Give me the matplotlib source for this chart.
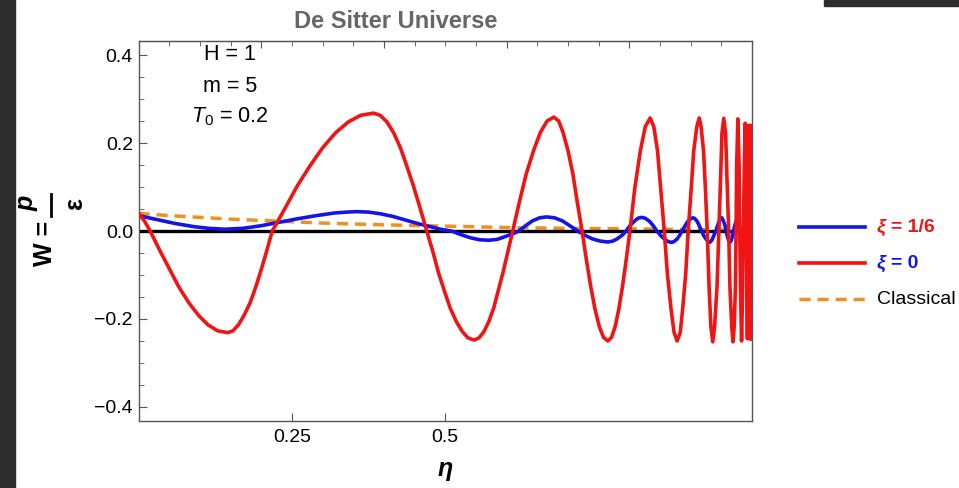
import numpy as np
import matplotlib.pyplot as plt
from matplotlib.lines import Line2D
from matplotlib.patches import Rectangle
from matplotlib.ticker import MultipleLocator

plt.rcParams['font.family'] = ['Liberation Sans', 'DejaVu Sans']
plt.rcParams['mathtext.fontset'] = 'custom'
plt.rcParams['mathtext.rm'] = 'Liberation Sans'
plt.rcParams['mathtext.it'] = 'Liberation Sans:italic'
plt.rcParams['mathtext.bf'] = 'Liberation Sans:bold'

# xi = 0 (red)
eta_red = [0.000, 0.010, 0.019, 0.035, 0.051, 0.066, 0.082, 0.098, 0.113, 0.129, 0.145,
           0.154, 0.163, 0.172, 0.182, 0.191, 0.200, 0.209, 0.218,
           0.239, 0.259, 0.280, 0.300, 0.321, 0.342, 0.362, 0.383,
           0.394, 0.405, 0.416, 0.427, 0.437, 0.448, 0.459, 0.470,
           0.480, 0.489, 0.499, 0.508, 0.518, 0.528, 0.537, 0.547,
           0.555, 0.563, 0.571, 0.579, 0.586, 0.594, 0.602, 0.610,
           0.621, 0.632, 0.644, 0.655, 0.666, 0.677, 0.685, 0.692, 0.700, 0.708, 0.715, 0.723,
           0.730, 0.737, 0.744, 0.751, 0.758, 0.765, 0.771, 0.777, 0.783, 0.789, 0.795, 0.801,
           0.809, 0.818, 0.826, 0.834, 0.840, 0.846, 0.851, 0.857,
           0.862, 0.868, 0.873, 0.878, 0.883, 0.887, 0.892, 0.896,
           0.901, 0.905, 0.910, 0.914, 0.917, 0.921, 0.924, 0.927,
           0.930, 0.933, 0.936, 0.939, 0.943, 0.946,
           0.949, 0.951, 0.954, 0.957, 0.959, 0.962,
           0.964, 0.967, 0.969, 0.971, 0.973, 0.974,
           0.975, 0.977, 0.979, 0.980, 0.9815, 0.983, 0.9845, 0.986,
           0.9875, 0.989, 0.990, 0.991, 0.9925, 0.994, 0.9955, 0.997, 0.998, 0.999, 1.000]
w_red = [0.041, 0.022, 0.000, -0.045, -0.088, -0.128, -0.163, -0.192, -0.213, -0.227, -0.231,
         -0.227, -0.213, -0.192, -0.163, -0.128, -0.088, -0.045, 0.000,
         0.052, 0.103, 0.149, 0.189, 0.223, 0.248, 0.263, 0.268,
         0.263, 0.248, 0.223, 0.189, 0.149, 0.103, 0.052, 0.000,
         -0.048, -0.095, -0.138, -0.175, -0.206, -0.229, -0.243, -0.248,
         -0.243, -0.229, -0.206, -0.175, -0.138, -0.095, -0.048, 0.000,
         0.067, 0.130, 0.183, 0.224, 0.250, 0.259, 0.250, 0.224, 0.183, 0.130, 0.067, 0.000,
         -0.065, -0.125, -0.177, -0.217, -0.242, -0.250, -0.242, -0.217, -0.177, -0.125, -0.065, 0.000,
         0.098, 0.182, 0.237, 0.257, 0.237, 0.182, 0.098, 0.000,
         -0.096, -0.177, -0.231, -0.250, -0.231, -0.177, -0.096, 0.000,
         0.098, 0.182, 0.237, 0.257, 0.237, 0.182, 0.098, 0.000,
         -0.126, -0.218, -0.252, -0.218, -0.126, 0.000,
         0.128, 0.222, 0.256, 0.222, 0.128, 0.000,
         -0.126, -0.218, -0.252, -0.218, -0.126, 0.000,
         0.150, 0.255, 0.150, 0.000, -0.150, -0.250, -0.150, 0.000,
         0.150, 0.245, 0.150, 0.000, -0.245, 0.240, -0.245, 0.240, -0.245, 0.240, -0.245]

# xi = 1/6 (blue)
eta_blue = [0.000, 0.030, 0.060, 0.090, 0.115, 0.141, 0.170, 0.200, 0.230, 0.260, 0.290, 0.320,
            0.340, 0.355, 0.375, 0.395, 0.415, 0.435, 0.455, 0.475, 0.492, 0.510,
            0.525, 0.540, 0.556, 0.572, 0.585, 0.597, 0.609, 0.620,
            0.631, 0.642, 0.654, 0.665, 0.678, 0.691, 0.703, 0.716,
            0.728, 0.740, 0.753, 0.765, 0.773, 0.780, 0.788, 0.795,
            0.801, 0.808, 0.814, 0.820, 0.826, 0.833, 0.839, 0.845,
            0.851, 0.857, 0.863, 0.869, 0.873, 0.878, 0.882, 0.886,
            0.891, 0.895, 0.900, 0.904, 0.907, 0.911, 0.914, 0.918,
            0.921, 0.925, 0.928, 0.931, 0.934, 0.937, 0.941,
            0.944, 0.947, 0.951, 0.953, 0.956, 0.958,
            0.960, 0.962, 0.964, 0.966, 0.968, 0.970,
            0.972, 0.974, 0.976, 0.977, 0.978, 0.979,
            0.9805, 0.982, 0.9835, 0.985, 0.9865, 0.988, 0.9895, 0.991,
            0.9925, 0.994, 0.9955, 0.997, 0.9985, 1.000]
w_blue = [0.035, 0.026, 0.017, 0.010, 0.006, 0.004, 0.006, 0.012, 0.020, 0.028, 0.035, 0.041,
          0.043, 0.044, 0.043, 0.039, 0.033, 0.025, 0.017, 0.010, 0.004, 0.000,
          -0.008, -0.015, -0.020, -0.021, -0.019, -0.013, -0.007, 0.000,
          0.012, 0.023, 0.030, 0.032, 0.030, 0.023, 0.012, 0.000,
          -0.010, -0.018, -0.023, -0.025, -0.023, -0.018, -0.010, 0.000,
          0.012, 0.022, 0.029, 0.031, 0.029, 0.022, 0.012, 0.000,
          -0.010, -0.018, -0.024, -0.026, -0.024, -0.018, -0.010, 0.000,
          0.012, 0.021, 0.028, 0.030, 0.028, 0.021, 0.012, 0.000,
          -0.010, -0.018, -0.024, -0.026, -0.022, -0.013, 0.000,
          0.013, 0.024, 0.030, 0.024, 0.013, 0.000,
          -0.013, -0.022, -0.026, -0.022, -0.013, 0.000,
          0.013, 0.022, 0.028, 0.022, 0.013, 0.000,
          -0.015, -0.025, -0.015, 0.000, 0.016, 0.026, 0.016, 0.000,
          -0.015, -0.024, -0.015, 0.000, 0.015, 0.024]

# classical
eta_cl = [0.0, 0.05, 0.1, 0.15, 0.2, 0.25, 0.3, 0.4, 0.5, 0.6, 0.7, 0.8, 0.9, 1.0]
w_cl = [0.040, 0.035, 0.031, 0.027, 0.024, 0.021, 0.018, 0.014, 0.011, 0.008, 0.006, 0.005, 0.003, 0.002]

params = ['H = 1', 'm = 5', '$T_0$ = 0.2']

RED = '#f01414'
BLUE = '#1414e6'
ORANGE = '#f0901e'

W, H = 959, 488
fig = plt.figure(figsize=(W / 100, H / 100), dpi=100)
ax = fig.add_axes([138.5 / W, 1 - 421 / H, (752 - 138.5) / W, (421 - 41) / H])

ax.axhline(0, color='black', lw=2.4, zorder=2.5)
ax.plot(eta_cl, w_cl, color=ORANGE, lw=2.5, dashes=(3.2, 2.0), zorder=2)
ax.plot(eta_blue, w_blue, color=BLUE, lw=2.6, zorder=3)
ax.plot(eta_red, w_red, color=RED, lw=2.6, zorder=4)

ax.set_xlim(0, 1)
ax.set_ylim(-0.432, 0.432)

for s in ax.spines.values():
    s.set_color('#555555')
    s.set_linewidth(1.0)

ax.set_xticks([0.25, 0.5], ['0.25', '0.5'])
ax.set_yticks([0.4, 0.2, 0.0, -0.2, -0.4], ['0.4', '0.2', '0.0', '\u22120.2', '\u22120.4'])
ax.yaxis.set_minor_locator(MultipleLocator(0.05))
ax.tick_params(axis='both', which='both', direction='in', color='#555555', labelsize=14)
ax.tick_params(axis='x', which='major', length=6, pad=6, top=False)
ax.tick_params(axis='y', which='major', length=6, pad=4, right=False)
ax.tick_params(axis='y', which='minor', length=3.5, right=False)

top = ax.secondary_xaxis('top')
top.set_xticks([0.2, 0.4, 0.6, 0.8])
top.xaxis.set_minor_locator(MultipleLocator(0.05))
top.tick_params(which='both', direction='in', color='#555555', labeltop=False)
top.tick_params(which='major', length=5)
top.tick_params(which='minor', length=3.5)
top.spines['top'].set_color('#555555')

for i, t in enumerate(params):
    fig.text(230 / W, 1 - (55 + 31 * i) / H, t, ha='center', va='center', fontsize=15.5)

# title
fig.text(497 / W, 1 - 21 / H, 'De Sitter Universe', ha='right', va='center',
         fontsize=17, fontweight='bold', color='#666666')

# axis labels
fig.text(445 / W, 1 - 469 / H, '\u03b7', ha='center', va='center', fontsize=18,
         fontweight='bold', fontstyle='italic')
fig.text(45 / W, 1 - 243 / H, 'W =', rotation=90, ha='center', va='center',
         fontsize=18, fontweight='bold')
fig.text(27 / W, 1 - 203 / H, 'p', rotation=90, ha='center', va='center',
         fontsize=18, fontweight='bold', fontstyle='italic')
fig.text(75 / W, 1 - 203 / H, '\u03b5', rotation=90, ha='center', va='center',
         fontsize=18, fontweight='bold')
fig.add_artist(Line2D([51 / W, 51 / W], [1 - 216 / H, 1 - 194 / H], color='black', lw=2))

# legend
leg_y = [227, 263, 299]
leg_style = [dict(color=BLUE, lw=2.6), dict(color=RED, lw=2.6),
             dict(color=ORANGE, lw=2.5, dashes=(3.2, 2.0))]
for y, st in zip(leg_y, leg_style):
    fig.add_artist(Line2D([799 / W, 865 / W], [1 - y / H, 1 - y / H], **st))
fig.text(877 / W, 1 - 227 / H, '\u03be', ha='left', va='center', fontsize=14,
         fontweight='bold', fontstyle='italic', color=RED)
fig.text(891 / W, 1 - 227 / H, '= 1/6', ha='left', va='center', fontsize=14,
         fontweight='bold', color=RED)
fig.text(877 / W, 1 - 263 / H, '\u03be', ha='left', va='center', fontsize=14,
         fontweight='bold', fontstyle='italic', color=BLUE)
fig.text(891 / W, 1 - 263 / H, '= 0', ha='left', va='center', fontsize=14,
         fontweight='bold', color=BLUE)
fig.text(877 / W, 1 - 299 / H, 'Classical', ha='left', va='center', fontsize=14)

# dark frame bits
fig.add_artist(Rectangle((0, 0), 15 / W, 1, transform=fig.transFigure,
                         color='#2d2d2d', zorder=10))
fig.add_artist(Rectangle((824 / W, 1 - 6 / H), 1, 6 / H, transform=fig.transFigure,
                         color='#2d2d2d', zorder=10))

fig.savefig('out.png', dpi=100)
